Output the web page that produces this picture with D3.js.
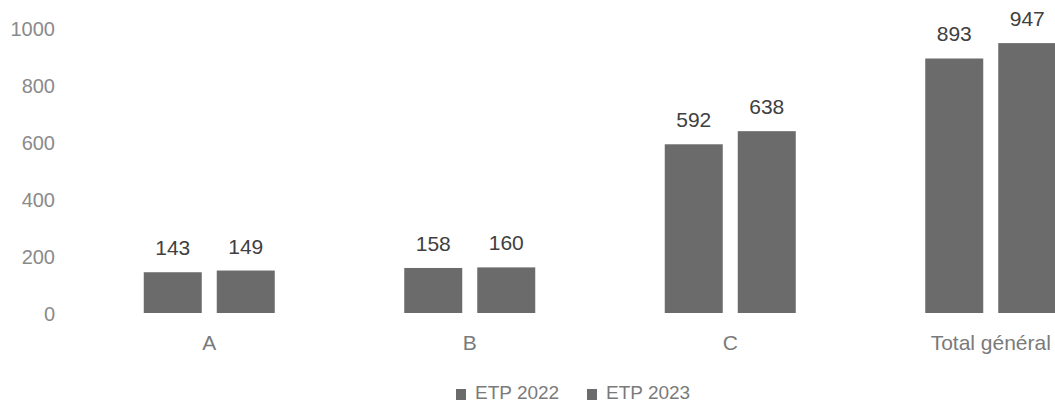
<!DOCTYPE html>
<html><head><meta charset="utf-8">
<script src="https://cdn.jsdelivr.net/npm/d3@7"></script>
<style>body{margin:0;background:#fff;overflow:hidden}svg{display:block}</style>
</head><body>
<svg id="c" width="1055" height="405"></svg>
<script>
const categories = ["A", "B", "C", "Total général"];
const seriesNames = ["ETP 2022", "ETP 2023"];
const etp2022 = [143, 158, 592, 893];
const etp2023 = [149, 160, 638, 947];
const yTicks = [0, 200, 400, 600, 800, 1000];
const colors = ["#6b6b6b", "#6b6b6b"];

const svg = d3.select("#c");
const font = "'Liberation Sans', Arial, sans-serif";
const y = d3.scaleLinear().domain([0, 1000]).range([313, 28]);
const x = d3.scaleBand().domain(categories).range([79, 1121]).paddingInner(0).paddingOuter(0);
const inner = d3.scaleBand().domain(seriesNames).range([64.75, 260.5 - 64.75]).paddingInner(15 / 131 * 2 / (1 + 15/131)).paddingOuter(0);

const data = categories.map((c, i) => ({cat: c, vals: [etp2022[i], etp2023[i]]}));

// y axis
const yAxis = d3.axisLeft(y).tickValues(yTicks).tickFormat(d3.format("d")).tickSize(0).tickPadding(0);
const gy = svg.append("g").attr("transform", "translate(55,0)").call(yAxis);
gy.select(".domain").remove();
gy.selectAll("text").attr("font-family", font).attr("font-size", 20).attr("fill", "#8a8a8a").attr("dy", "0.36em");

// x axis
const xAxis = d3.axisBottom(x).tickSize(0).tickPadding(0);
const gx = svg.append("g").attr("transform", "translate(0,335)").call(xAxis);
gx.select(".domain").remove();
gx.selectAll("text").attr("font-family", font).attr("font-size", 21).attr("fill", "#7a7a7a").attr("dy", "0.71em");

// bars
const groups = svg.append("g").selectAll("g").data(data).join("g")
  .attr("transform", d => `translate(${x(d.cat)},0)`);
groups.selectAll("rect").data(d => d.vals.map((v, j) => ({v, s: seriesNames[j], j}))).join("rect")
  .attr("x", d => inner(d.s)).attr("width", inner.bandwidth())
  .attr("y", d => y(d.v)).attr("height", d => y(0) - y(d.v))
  .attr("fill", d => colors[d.j]);
groups.selectAll("text").data(d => d.vals.map((v, j) => ({v, s: seriesNames[j]}))).join("text")
  .attr("x", d => inner(d.s) + inner.bandwidth() / 2).attr("y", d => y(d.v) - 17)
  .attr("text-anchor", "middle").attr("font-family", font).attr("font-size", 21).attr("fill", "#404040")
  .text(d => d.v);

// legend
const legend = svg.append("g").selectAll("g").data(seriesNames).join("g")
  .attr("transform", (d, i) => `translate(${456 + i * 131},0)`);
legend.append("rect").attr("x", 0).attr("y", 389).attr("width", 10).attr("height", 11).attr("fill", (d, i) => colors[i]);
legend.append("text").attr("x", 19).attr("y", 399).attr("font-family", font).attr("font-size", 19).attr("fill", "#7a7a7a").text(d => d);
</script>
</body></html>
